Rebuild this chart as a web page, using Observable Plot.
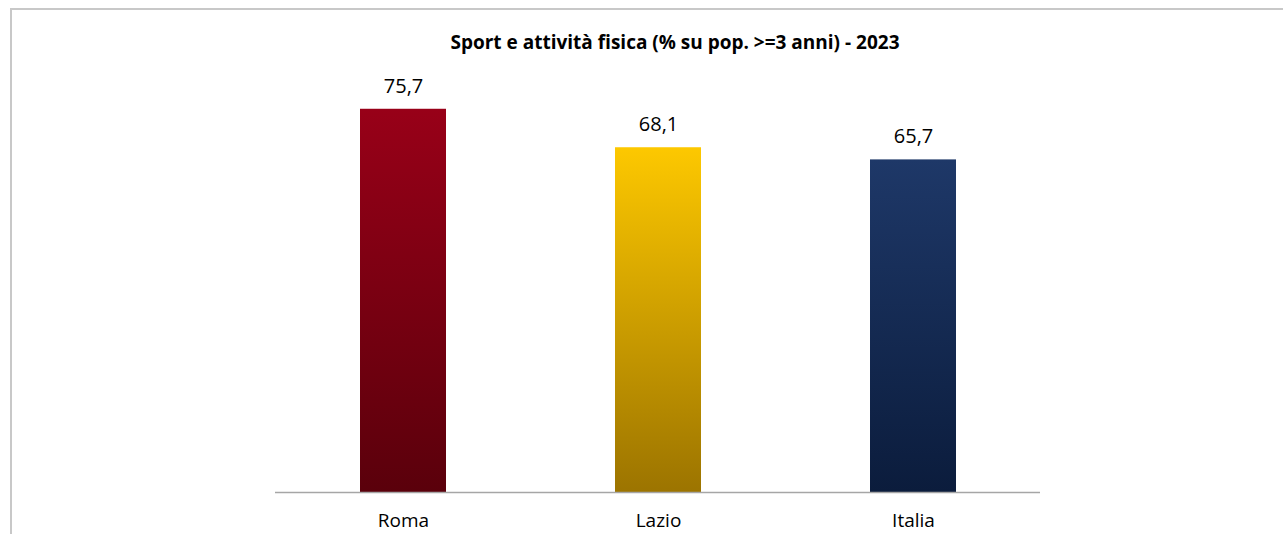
<!DOCTYPE html>
<html><head><meta charset="utf-8">
<script src="https://cdn.jsdelivr.net/npm/d3@7"></script>
<script src="https://cdn.jsdelivr.net/npm/@observablehq/plot@0.6"></script>
<style>
body{margin:0;background:#fff;font-family:"Open Sans",sans-serif;}
#wrap{position:relative;width:1283px;height:534px;overflow:hidden;}
#border{position:absolute;left:10px;top:8px;width:1300px;height:600px;border-left:2px solid #c8c8c8;border-top:2px solid #c8c8c8;}
#title{position:absolute;left:0;width:1350px;top:30px;text-align:center;font-weight:700;font-size:19px;line-height:24px;color:#000;white-space:nowrap;}
#chart{position:absolute;left:0;top:0;}
</style></head><body>
<div id="wrap"><div id="border"></div><div id="chart"></div><div id="title"></div></div>
<script>
const titleText = "Sport e attività fisica (% su pop. >=3 anni) - 2023";
const categories = ["Roma", "Lazio", "Italia"];
const values = [75.7, 68.1, 65.7];
const topColors = ["#980018", "#fdc800", "#1e3868"];
const bottomColors = ["#5a000b", "#9c7400", "#0b1c3c"];

document.getElementById("title").textContent = titleText;
const data = categories.map((c, i) => ({category: c, value: values[i], grad: "grad" + i}));
const fmt = v => v.toFixed(1).replace(".", ",");

const chart = Plot.plot({
  width: 1283, height: 534,
  marginLeft: 275, marginRight: 243, marginTop: 87, marginBottom: 42,
  style: {fontFamily: "Open Sans", fontSize: "19px", background: "transparent", color: "#000"},
  x: {domain: categories, paddingInner: 0.663, paddingOuter: 0.3315, label: null, tickSize: 0, tickPadding: 21},
  y: {domain: [0, 80], axis: null},
  marks: [
    ...data.map(d => Plot.barY([d], {x: "category", y: "value", fill: `url(#${d.grad})`})),
    Plot.ruleY([0], {stroke: "#a6a6a6", strokeWidth: 1.5}),
    Plot.text(data, {x: "category", y: "value", text: d => fmt(d.value), dy: -23, fontSize: 20, fill: "#000"})
  ]
});

const defs = d3.select(chart).insert("defs", ":first-child");
data.forEach((d, i) => {
  const g = defs.append("linearGradient").attr("id", d.grad)
    .attr("x1", 0).attr("y1", 0).attr("x2", 0).attr("y2", 1);
  g.append("stop").attr("offset", "0%").attr("stop-color", topColors[i]);
  g.append("stop").attr("offset", "100%").attr("stop-color", bottomColors[i]);
});
document.getElementById("chart").appendChild(chart);
</script>
</body></html>
